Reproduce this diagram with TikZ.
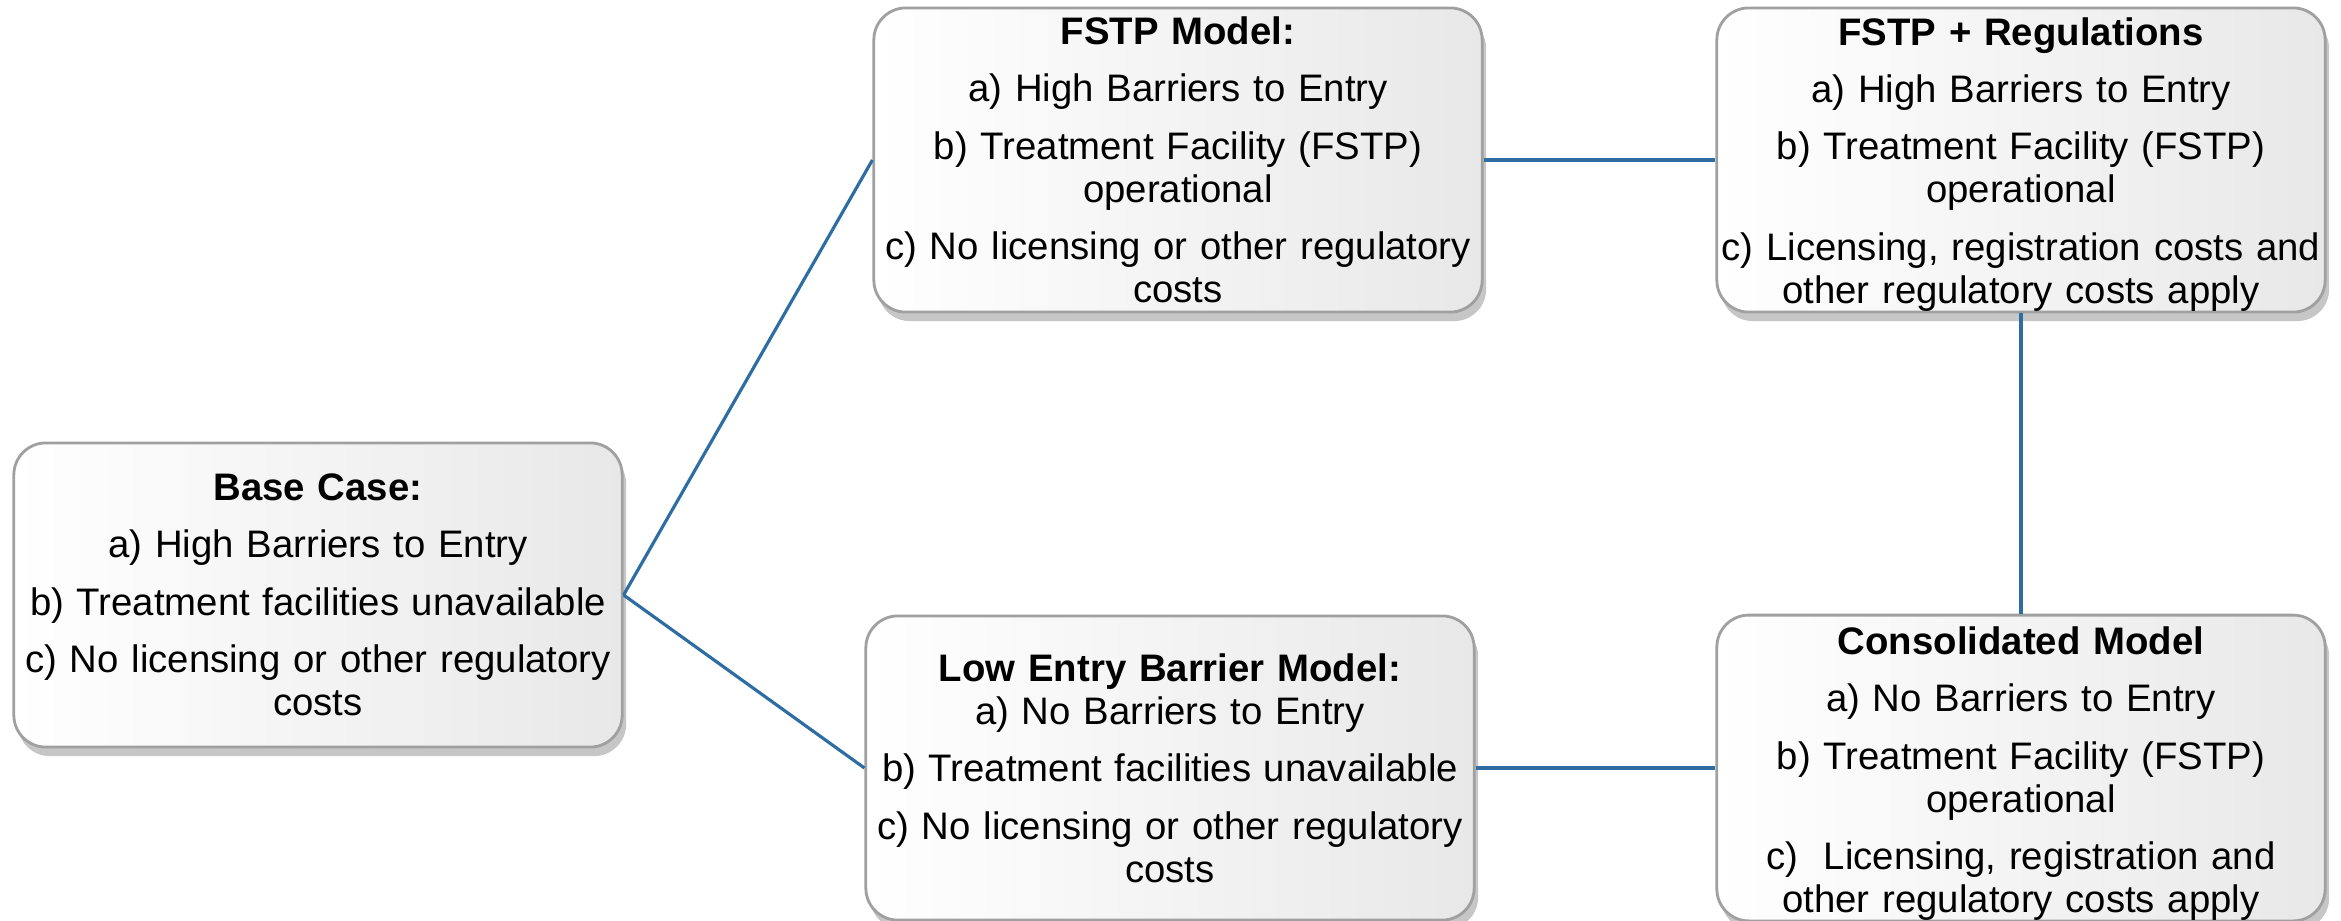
\documentclass[tikz,border=0pt]{standalone}
\usepackage{fontspec}
\setmainfont{Liberation Sans}
\usetikzlibrary{shadows}
\definecolor{linkblue}{HTML}{2E6DA4}
\definecolor{boxborder}{HTML}{A0A0A0}
\hyphenpenalty=10000
\begin{document}
\begin{tikzpicture}[x=0.01cm,y=-0.01cm,
  box/.style={draw=boxborder, line width=0.8pt, rounded corners=0.32cm,
    left color=white, right color=black!9,
    drop shadow={shadow xshift=0.4mm, shadow yshift=-0.9mm, opacity=0.45},
    minimum width=6.08cm, minimum height=3.04cm, text width=6.06cm,
    align=center, inner sep=0pt,
    font=\fontsize{10.9}{12.3}\selectfont},
  link/.style={draw=linkblue, line width=0.9pt}]
\useasboundingbox (0,0) rectangle (2341,921);
\node[box] (base) at (318,595) {\textbf{Base Case:}\\[4pt]
  a) High Barriers to Entry\\[4pt]
  b) Treatment facilities unavailable\\[4pt]
  c) No licensing or other regulatory\\ costs};
\node[box] (fstp) at (1178,160) {\textbf{FSTP Model:}\\[4pt]
  a) High Barriers to Entry\\[4pt]
  b) Treatment Facility (FSTP)\\ operational\\[4pt]
  c) No licensing or other regulatory\\ costs};
\node[box] (reg) at (2021,160) {\rule{0pt}{10.4pt}\textbf{FSTP + Regulations}\\[4pt]
  a) High Barriers to Entry\\[4pt]
  b) Treatment Facility (FSTP)\\ operational\\[4pt]
  \mbox{c) Licensing, registration costs and}\\ other regulatory costs apply};
\node[box] (low) at (1170,768) {\textbf{Low Entry Barrier Model:}\\
  a) No Barriers to Entry\\[4pt]
  b) Treatment facilities unavailable\\[4pt]
  c) No licensing or other regulatory\\ costs};
\node[box] (cons) at (2021,768) {\rule{0pt}{11.2pt}\textbf{Consolidated Model}\\[4pt]
  a) No Barriers to Entry\\[4pt]
  b) Treatment Facility (FSTP)\\ operational\\[4pt]
  c)\ \ Licensing, registration and\\ other regulatory costs apply};
\draw[link] (base.east) -- (fstp.west);
\draw[link] (base.east) -- (low.west);
\draw[link] (fstp.east) -- (reg.west);
\draw[link] (reg.south) -- (cons.north);
\draw[link] (low.east) -- (cons.west);
\end{tikzpicture}
\end{document}
